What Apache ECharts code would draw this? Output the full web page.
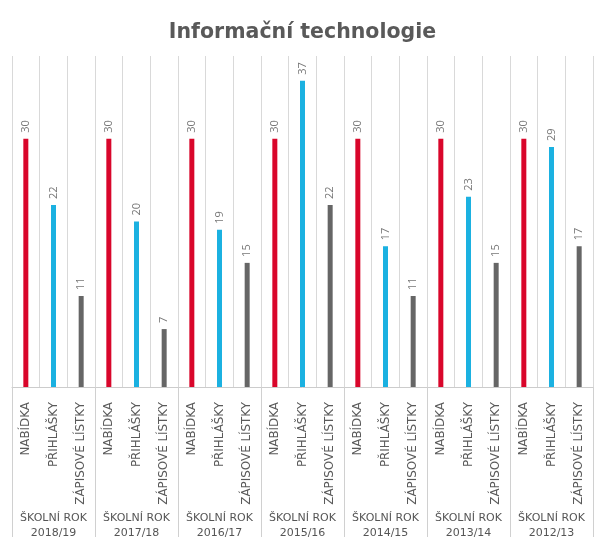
<!DOCTYPE html>
<html>
<head>
<meta charset="utf-8">
<script src="https://cdn.jsdelivr.net/npm/echarts@6/dist/echarts.min.js"></script>
<style>
html,body{margin:0;padding:0;background:#fff;}
#chart{width:605px;height:553px;}
</style>
</head>
<body>
<div id="chart"></div>
<script>
var years = ['2018/19', '2017/18', '2016/17', '2015/16', '2014/15', '2013/14', '2012/13'];
var measures = ['NABÍDKA', 'PŘIHLÁŠKY', 'ZÁPISOVÉ LÍSTKY'];
var nabidka = [30, 30, 30, 30, 30, 30, 30];
var prihlasky = [22, 20, 19, 37, 17, 23, 29];
var zapisove = [11, 7, 15, 22, 11, 15, 17];
var colors = ['#d9062b', '#1bb1e1', '#666666'];

var cats = [], data = [];
years.forEach(function (y, i) {
  var vals = [nabidka[i], prihlasky[i], zapisove[i]];
  measures.forEach(function (m, j) {
    cats.push(m);
    data.push({ value: vals[j], itemStyle: { color: colors[j] } });
  });
});

var chart = echarts.init(document.getElementById('chart'));
chart.setOption({
  animation: false,
  title: {
    text: 'Informační technologie',
    left: 'center',
    top: 17,
    textStyle: { fontFamily: 'DejaVu Sans', fontWeight: 'bold', fontSize: 20.5, color: '#595959' }
  },
  grid: { left: 12, right: 12, top: 56, bottom: 166, containLabel: false },
  xAxis: [{
    type: 'category',
    data: cats,
    axisLine: { lineStyle: { color: '#cccccc' } },
    axisTick: { show: false },
    splitLine: { show: true, interval: 0, lineStyle: { color: '#d9d9d9' } },
    axisLabel: {
      interval: 0, rotate: 90, margin: 15,
      fontFamily: 'DejaVu Sans', fontSize: 11.9, color: '#5a5a5a'
    }
  }, {
    type: 'category',
    data: years.map(function (y) { return 'ŠKOLNÍ ROK\n' + y; }),
    position: 'bottom',
    axisLine: { show: false },
    axisTick: { show: true, length: 150, lineStyle: { color: '#d0d0d0' } },
    axisLabel: {
      interval: 0, margin: 124, lineHeight: 15,
      fontFamily: 'DejaVu Sans', fontSize: 11, color: '#555555'
    }
  }],
  yAxis: {
    type: 'value', min: 0, max: 40,
    show: false,
    splitLine: { show: false }
  },
  series: [{
    type: 'bar',
    xAxisIndex: 0,
    data: data,
    barWidth: 5,
    label: {
      show: true, position: 'top', rotate: 90, align: 'left', verticalAlign: 'middle',
      distance: 6, fontFamily: 'Open Sans', fontSize: 11, color: '#777777'
    }
  }]
});
</script>
</body>
</html>
